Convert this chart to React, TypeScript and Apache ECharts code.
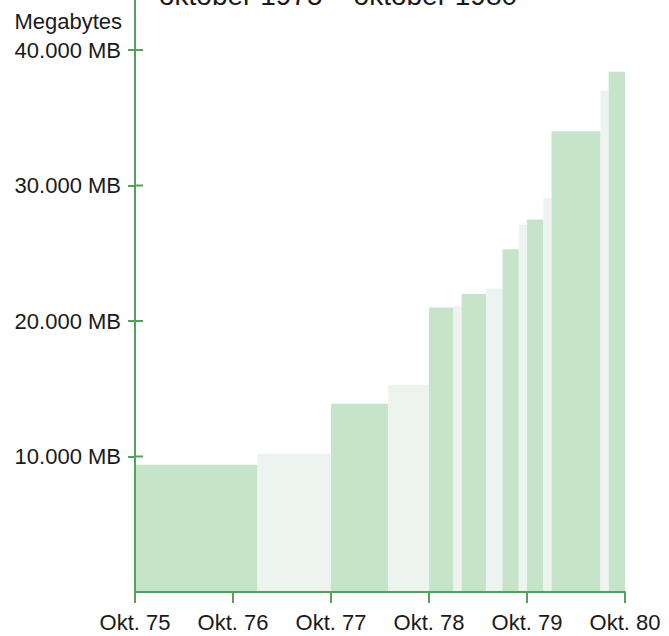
import React, { useEffect, useRef } from "react";
import * as echarts from "echarts";

// Periods in months counted from October 1975 (0 = Okt. 75, 60 = Okt. 80)
const periodStart = [0, 15, 24, 31, 36, 39, 40, 43, 45, 47, 48, 50, 51, 57, 58];
const periodEnd = [15, 24, 31, 36, 39, 40, 43, 45, 47, 48, 50, 51, 57, 58, 60];
// Capacity in MB for each period
const capacityMB = [9400, 10200, 13900, 15300, 21000, 21100, 22000, 22400, 25300, 27100, 27500, 29100, 34000, 37000, 38400];

const xTickLabels = ["Okt. 75", "Okt. 76", "Okt. 77", "Okt. 78", "Okt. 79", "Okt. 80"];
const yTickValues = [10000, 20000, 30000, 40000];
const yTickLabels = ["", "10.000 MB", "20.000 MB", "30.000 MB", "40.000 MB"];
const yAxisName = "Megabytes";
const titleText = "oktober 1975 – oktober 1980";

const GREEN = "#c6e4c9";
const LIGHT = "#edf3ee";
const AXIS = "#55a05a";
const TEXT = "#1a1a1a";
const FONT = "'Liberation Sans', Arial, Helvetica, sans-serif";
const TICK_LEN = 7;

export default function App() {
  const ref = useRef<HTMLDivElement>(null);

  useEffect(() => {
    if (!ref.current) return;
    const chart = echarts.init(ref.current, undefined, { renderer: "svg" });
    const bars = periodStart.map((s, i) => [s, periodEnd[i], capacityMB[i], 0]);
    const innerTicks = yTickValues.map((v) => [0, 0, v, 1]);

    chart.setOption({
      animation: false,
      grid: { left: 135, right: 44, top: 50, bottom: 44, containLabel: false },
      graphic: [
        {
          type: "line",
          shape: { x1: 135, y1: 0, x2: 135, y2: 51 },
          style: { stroke: AXIS, lineWidth: 2 },
          z: 10,
        },
        {
          type: "text",
          x: 159,
          y: -5,
          style: {
            text: titleText,
            font: `28px ${FONT}`,
            fill: TEXT,
            align: "left",
            verticalAlign: "middle",
          },
        },
      ],
      xAxis: {
        type: "value",
        min: 0,
        max: 60,
        interval: 12,
        z: 5,
        axisLine: { show: true, lineStyle: { color: AXIS, width: 2 } },
        axisTick: { show: true, length: 11, lineStyle: { color: AXIS, width: 2 } },
        splitLine: { show: false },
        axisLabel: {
          margin: 19,
          fontSize: 22,
          fontFamily: FONT,
          color: TEXT,
          formatter: (v: number) => xTickLabels[Math.round(v / 12)] ?? "",
        },
      },
      yAxis: {
        type: "value",
        min: 0,
        max: 40000,
        interval: 10000,
        position: "left",
        z: 5,
        name: yAxisName,
        nameLocation: "end",
        nameGap: 18,
        nameTextStyle: {
          fontSize: 22,
          fontFamily: FONT,
          color: TEXT,
          align: "right",
          verticalAlign: "bottom",
          padding: [0, 13, 0, 0],
        },
        axisLine: { show: true, lineStyle: { color: AXIS, width: 2 } },
        axisTick: {
          show: true,
          length: TICK_LEN,
          lineStyle: { color: AXIS, width: 2 },
          customValues: yTickValues,
        },
        splitLine: { show: false },
        axisLabel: {
          margin: 14,
          fontSize: 22,
          fontFamily: FONT,
          color: TEXT,
          formatter: (v: number) => yTickLabels[Math.round(v / 10000)] ?? "",
        },
      },
      series: [
        {
          type: "custom",
          z: 2,
          clip: false,
          encode: { x: [0, 1], y: 2 },
          data: bars.concat(innerTicks),
          renderItem: (params: any, api: any) => {
            const s = api.value(0);
            const e = api.value(1);
            const v = api.value(2);
            const kind = api.value(3);
            if (kind === 1) {
              // inner half of the cross-shaped y-axis tick
              const p = api.coord([s, v]);
              return {
                type: "rect",
                z2: 10,
                shape: { x: p[0], y: p[1] - 1, width: TICK_LEN + 1, height: 2 },
                style: { fill: AXIS },
              };
            }
            const p0 = api.coord([s, v]);
            const p1 = api.coord([e, 0]);
            return {
              type: "rect",
              shape: { x: p0[0], y: p0[1], width: p1[0] - p0[0], height: p1[1] - p0[1] },
              style: { fill: params.dataIndex % 2 === 0 ? GREEN : LIGHT },
            };
          },
        },
      ],
    });

    return () => chart.dispose();
  }, []);

  return (
    <div
      ref={ref}
      style={{ position: "absolute", left: 0, top: 0, width: 669, height: 636, background: "#fff" }}
    />
  );
}
